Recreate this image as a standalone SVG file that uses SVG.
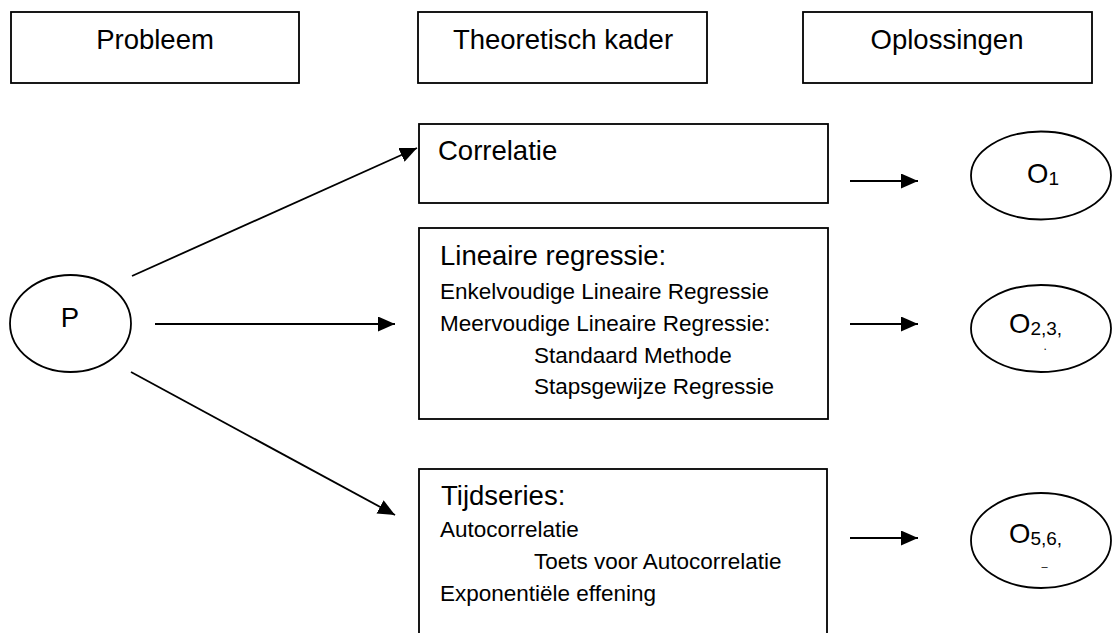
<svg xmlns="http://www.w3.org/2000/svg" width="1113" height="633" viewBox="0 0 1113 633">
  <defs>
    <style>
      .box { fill: #ffffff; stroke: #000000; stroke-width: 1.8; }
      .oval { fill: #ffffff; stroke: #000000; stroke-width: 1.8; }
      .link { stroke: #000000; stroke-width: 1.8; fill: none; marker-end: url(#head); }
      text { font-family: "Liberation Sans", Arial, sans-serif; fill: #000000; }
      .big { font-size: 27.5px; }
      .small { font-size: 22.5px; }
      .sub { font-size: 19px; }
      .mid { text-anchor: middle; }
    </style>
    <marker id="head" viewBox="0 0 17 15" refX="17" refY="7.5" markerWidth="17" markerHeight="15" markerUnits="userSpaceOnUse" orient="auto">
      <path d="M0,0 L17,7.5 L0,15 Z" fill="#000000"/>
    </marker>
  </defs>

  <!-- column headers -->
  <g id="header-probleem">
    <rect class="box" x="11" y="12" width="288" height="71"/>
    <text class="big mid" x="155" y="49">Probleem</text>
  </g>
  <g id="header-kader">
    <rect class="box" x="418" y="12" width="289" height="71"/>
    <text class="big mid" x="563" y="49">Theoretisch kader</text>
  </g>
  <g id="header-oplossingen">
    <rect class="box" x="803" y="12" width="289" height="71"/>
    <text class="big mid" x="947" y="49">Oplossingen</text>
  </g>

  <!-- problem node -->
  <g id="node-p">
    <ellipse class="oval" cx="70.5" cy="323.5" rx="60.5" ry="48.5"/>
    <text class="big mid" x="70" y="327">P</text>
  </g>

  <!-- theory boxes -->
  <g id="node-correlatie">
    <rect class="box" x="419" y="124" width="409" height="79"/>
    <text class="big" x="438" y="160">Correlatie</text>
  </g>
  <g id="node-regressie">
    <rect class="box" x="419" y="228" width="409" height="191"/>
    <text class="big" x="440" y="265">Lineaire regressie:</text>
    <text class="small" x="440" y="299">Enkelvoudige Lineaire Regressie</text>
    <text class="small" x="440" y="331">Meervoudige Lineaire Regressie:</text>
    <text class="small" x="534" y="363">Standaard Methode</text>
    <text class="small" x="534" y="394">Stapsgewijze Regressie</text>
  </g>
  <g id="node-tijdseries">
    <rect class="box" x="419" y="469" width="408" height="180"/>
    <text class="big" x="441" y="505">Tijdseries:</text>
    <text class="small" x="440" y="537">Autocorrelatie</text>
    <text class="small" x="534" y="569">Toets voor Autocorrelatie</text>
    <text class="small" x="440" y="601">Exponentiële effening</text>
  </g>

  <!-- solution nodes -->
  <g id="node-o1">
    <ellipse class="oval" cx="1041" cy="175.5" rx="70" ry="44"/>
    <text class="big" x="1027" y="183">O<tspan class="sub" dy="2">1</tspan></text>
  </g>
  <g id="node-o2">
    <ellipse class="oval" cx="1041" cy="328.5" rx="70" ry="43.5"/>
    <text class="big" x="1009" y="333">O<tspan class="sub" dy="2">2,3,</tspan></text>
    <text style="font-size:12px" x="1043.5" y="350">.</text>
  </g>
  <g id="node-o5">
    <ellipse class="oval" cx="1041" cy="540.5" rx="70" ry="47.5"/>
    <text class="big" x="1009" y="543">O<tspan class="sub" dy="2">5,6,</tspan></text>
    <text style="font-size:11px" x="1041.5" y="569.5">–</text>
  </g>

  <!-- connectors -->
  <g id="connectors">
    <line class="link" x1="132" y1="276" x2="417" y2="148"/>
    <line class="link" x1="155" y1="324" x2="395" y2="324"/>
    <line class="link" x1="131" y1="372" x2="395" y2="515"/>
    <line class="link" x1="850" y1="181" x2="918" y2="181"/>
    <line class="link" x1="850" y1="324" x2="918" y2="324"/>
    <line class="link" x1="850" y1="538" x2="918" y2="538"/>
  </g>
</svg>
